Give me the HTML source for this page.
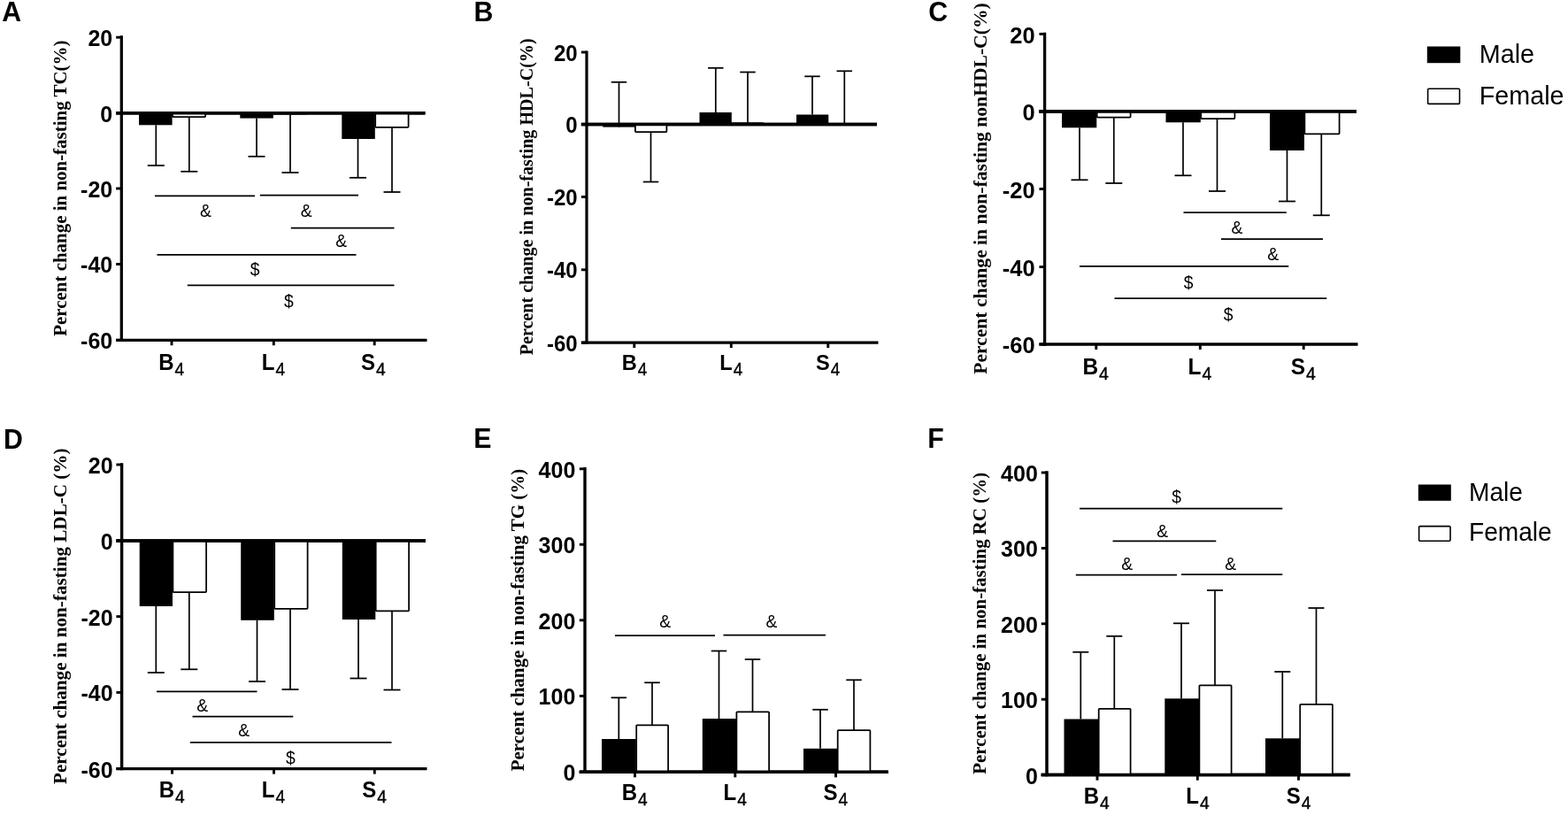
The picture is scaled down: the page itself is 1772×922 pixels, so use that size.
<!DOCTYPE html>
<html lang="en"><head><meta charset="utf-8"><title>Figure</title>
<style>html,body{margin:0;padding:0;background:#fff;}svg{display:block;}</style></head><body>
<svg width="1772" height="922" viewBox="0 0 1772 922">
<rect x="0" y="0" width="1772" height="922" fill="#fff"/>
<g>
<line x1="137.30" y1="40.35" x2="137.30" y2="385.95" stroke="#000" stroke-width="3.3" />
<line x1="131.15" y1="384.30" x2="482.50" y2="384.30" stroke="#000" stroke-width="3.3" />
<line x1="131.15" y1="127.70" x2="480.50" y2="127.70" stroke="#000" stroke-width="3.5999999999999996" />
<line x1="131.15" y1="42.20" x2="137.30" y2="42.20" stroke="#000" stroke-width="2.9" />
<text transform="translate(127.20,52.15) scale(1,1.04)" font-family='"Liberation Sans", Arial, sans-serif' font-size="25.0" font-weight="bold" text-anchor="end" >20</text>
<line x1="131.15" y1="127.70" x2="137.30" y2="127.70" stroke="#000" stroke-width="2.9" />
<text transform="translate(127.20,137.65) scale(1,1.04)" font-family='"Liberation Sans", Arial, sans-serif' font-size="25.0" font-weight="bold" text-anchor="end" >0</text>
<line x1="131.15" y1="213.00" x2="137.30" y2="213.00" stroke="#000" stroke-width="2.9" />
<text transform="translate(127.20,222.95) scale(1,1.04)" font-family='"Liberation Sans", Arial, sans-serif' font-size="25.0" font-weight="bold" text-anchor="end" >-20</text>
<line x1="131.15" y1="298.50" x2="137.30" y2="298.50" stroke="#000" stroke-width="2.9" />
<text transform="translate(127.20,308.45) scale(1,1.04)" font-family='"Liberation Sans", Arial, sans-serif' font-size="25.0" font-weight="bold" text-anchor="end" >-40</text>
<line x1="131.15" y1="384.30" x2="137.30" y2="384.30" stroke="#000" stroke-width="2.9" />
<text transform="translate(127.20,394.25) scale(1,1.04)" font-family='"Liberation Sans", Arial, sans-serif' font-size="25.0" font-weight="bold" text-anchor="end" >-60</text>
<line x1="194.00" y1="384.30" x2="194.00" y2="390.25" stroke="#000" stroke-width="2.9" />
<line x1="309.30" y1="384.30" x2="309.30" y2="390.25" stroke="#000" stroke-width="2.9" />
<line x1="423.20" y1="384.30" x2="423.20" y2="390.25" stroke="#000" stroke-width="2.9" />
<text transform="translate(179.30,418.00) scale(1,1.04)" font-family='"Liberation Sans", Arial, sans-serif' font-size="24.0" font-weight="bold">B<tspan font-weight="normal" font-size="19.2" dx="1" dy="5.8" stroke="#000" stroke-width="0.35">4</tspan></text>
<text transform="translate(295.80,418.00) scale(1,1.04)" font-family='"Liberation Sans", Arial, sans-serif' font-size="24.0" font-weight="bold">L<tspan font-weight="normal" font-size="19.2" dx="1" dy="5.8" stroke="#000" stroke-width="0.35">4</tspan></text>
<text transform="translate(408.00,418.00) scale(1,1.04)" font-family='"Liberation Sans", Arial, sans-serif' font-size="24.0" font-weight="bold">S<tspan font-weight="normal" font-size="19.2" dx="1" dy="5.8" stroke="#000" stroke-width="0.35">4</tspan></text>
<line x1="176.30" y1="141.30" x2="176.30" y2="187.00" stroke="#000" stroke-width="1.7" />
<line x1="166.80" y1="187.00" x2="185.80" y2="187.00" stroke="#000" stroke-width="1.75" />
<rect x="157.00" y="127.70" width="37.60" height="13.60" fill="#000"/>
<line x1="213.80" y1="132.50" x2="213.80" y2="193.80" stroke="#000" stroke-width="1.7" />
<line x1="204.30" y1="193.80" x2="223.30" y2="193.80" stroke="#000" stroke-width="1.75" />
<rect x="195.00" y="127.70" width="37.10" height="4.40" rx="0.8" fill="#fff" stroke="#000" stroke-width="1.75"/>
<line x1="290.00" y1="133.60" x2="290.00" y2="176.80" stroke="#000" stroke-width="1.7" />
<line x1="280.50" y1="176.80" x2="299.50" y2="176.80" stroke="#000" stroke-width="1.75" />
<rect x="271.30" y="127.70" width="37.50" height="5.90" fill="#000"/>
<line x1="328.00" y1="129.00" x2="328.00" y2="195.00" stroke="#000" stroke-width="1.7" />
<line x1="318.50" y1="195.00" x2="337.50" y2="195.00" stroke="#000" stroke-width="1.75" />
<rect x="309.20" y="127.70" width="37.90" height="0.90" rx="0.8" fill="#fff" stroke="#000" stroke-width="1.75"/>
<line x1="404.50" y1="157.00" x2="404.50" y2="200.80" stroke="#000" stroke-width="1.7" />
<line x1="395.00" y1="200.80" x2="414.00" y2="200.80" stroke="#000" stroke-width="1.75" />
<rect x="386.30" y="127.70" width="37.50" height="29.30" fill="#000"/>
<line x1="443.00" y1="144.30" x2="443.00" y2="217.00" stroke="#000" stroke-width="1.7" />
<line x1="433.50" y1="217.00" x2="452.50" y2="217.00" stroke="#000" stroke-width="1.75" />
<rect x="424.20" y="127.70" width="37.40" height="16.20" rx="0.8" fill="#fff" stroke="#000" stroke-width="1.75"/>
<line x1="131.15" y1="127.70" x2="480.50" y2="127.70" stroke="#000" stroke-width="3.5999999999999996" />
<line x1="175.00" y1="221.30" x2="288.00" y2="221.30" stroke="#000" stroke-width="1.75" />
<line x1="293.80" y1="220.70" x2="405.00" y2="220.70" stroke="#000" stroke-width="1.75" />
<line x1="328.80" y1="257.50" x2="445.50" y2="257.50" stroke="#000" stroke-width="1.75" />
<line x1="177.50" y1="287.80" x2="402.50" y2="287.80" stroke="#000" stroke-width="1.75" />
<line x1="211.80" y1="322.30" x2="445.50" y2="322.30" stroke="#000" stroke-width="1.75" />
<text transform="translate(232.50,244.90) scale(1,1.04)" font-family='"Liberation Sans", Arial, sans-serif' font-size="19.3" font-weight="normal" text-anchor="middle" >&amp;</text>
<text transform="translate(346.30,244.90) scale(1,1.04)" font-family='"Liberation Sans", Arial, sans-serif' font-size="19.3" font-weight="normal" text-anchor="middle" >&amp;</text>
<text transform="translate(385.80,279.40) scale(1,1.04)" font-family='"Liberation Sans", Arial, sans-serif' font-size="19.3" font-weight="normal" text-anchor="middle" >&amp;</text>
<text transform="translate(288.00,311.40) scale(1,1.04)" font-family='"Liberation Sans", Arial, sans-serif' font-size="19.3" font-weight="normal" text-anchor="middle" >$</text>
<text transform="translate(326.30,346.90) scale(1,1.04)" font-family='"Liberation Sans", Arial, sans-serif' font-size="19.3" font-weight="normal" text-anchor="middle" >$</text>
<text transform="translate(75.00,379.80) rotate(-90)" font-family='"Liberation Serif", "Times New Roman", serif' font-size="20.95" font-weight="bold">Percent change in non-fasting TC(%)</text>
<text transform="translate(2.30,24.40) scale(1,1.04)" font-family='"Liberation Sans", Arial, sans-serif' font-size="30.3" font-weight="bold" text-anchor="start" >A</text>
</g>
<g>
<line x1="663.00" y1="57.40" x2="663.00" y2="388.80" stroke="#000" stroke-width="3.2" />
<line x1="656.90" y1="387.20" x2="992.50" y2="387.20" stroke="#000" stroke-width="3.2" />
<line x1="656.90" y1="140.60" x2="991.00" y2="140.60" stroke="#000" stroke-width="3.5" />
<line x1="656.90" y1="59.00" x2="663.00" y2="59.00" stroke="#000" stroke-width="2.9" />
<text transform="translate(652.60,68.59) scale(1,1.04)" font-family='"Liberation Sans", Arial, sans-serif' font-size="24.0" font-weight="bold" text-anchor="end" >20</text>
<line x1="656.90" y1="140.60" x2="663.00" y2="140.60" stroke="#000" stroke-width="2.9" />
<text transform="translate(652.60,150.19) scale(1,1.04)" font-family='"Liberation Sans", Arial, sans-serif' font-size="24.0" font-weight="bold" text-anchor="end" >0</text>
<line x1="656.90" y1="222.40" x2="663.00" y2="222.40" stroke="#000" stroke-width="2.9" />
<text transform="translate(652.60,231.99) scale(1,1.04)" font-family='"Liberation Sans", Arial, sans-serif' font-size="24.0" font-weight="bold" text-anchor="end" >-20</text>
<line x1="656.90" y1="304.80" x2="663.00" y2="304.80" stroke="#000" stroke-width="2.9" />
<text transform="translate(652.60,314.39) scale(1,1.04)" font-family='"Liberation Sans", Arial, sans-serif' font-size="24.0" font-weight="bold" text-anchor="end" >-40</text>
<line x1="656.90" y1="387.20" x2="663.00" y2="387.20" stroke="#000" stroke-width="2.9" />
<text transform="translate(652.60,396.79) scale(1,1.04)" font-family='"Liberation Sans", Arial, sans-serif' font-size="24.0" font-weight="bold" text-anchor="end" >-60</text>
<line x1="716.80" y1="387.20" x2="716.80" y2="393.10" stroke="#000" stroke-width="2.9" />
<line x1="826.30" y1="387.20" x2="826.30" y2="393.10" stroke="#000" stroke-width="2.9" />
<line x1="935.80" y1="387.20" x2="935.80" y2="393.10" stroke="#000" stroke-width="2.9" />
<text transform="translate(702.80,418.10) scale(1,1.04)" font-family='"Liberation Sans", Arial, sans-serif' font-size="23.6" font-weight="bold">B<tspan font-weight="normal" font-size="18.9" dx="1" dy="5.8" stroke="#000" stroke-width="0.35">4</tspan></text>
<text transform="translate(813.30,418.10) scale(1,1.04)" font-family='"Liberation Sans", Arial, sans-serif' font-size="23.6" font-weight="bold">L<tspan font-weight="normal" font-size="18.9" dx="1" dy="5.8" stroke="#000" stroke-width="0.35">4</tspan></text>
<text transform="translate(922.00,418.10) scale(1,1.04)" font-family='"Liberation Sans", Arial, sans-serif' font-size="23.6" font-weight="bold">S<tspan font-weight="normal" font-size="18.9" dx="1" dy="5.8" stroke="#000" stroke-width="0.35">4</tspan></text>
<line x1="699.50" y1="143.60" x2="699.50" y2="92.80" stroke="#000" stroke-width="1.7" />
<line x1="690.75" y1="92.80" x2="708.25" y2="92.80" stroke="#000" stroke-width="1.75" />
<rect x="681.30" y="140.60" width="36.20" height="3.00" fill="#000"/>
<line x1="735.50" y1="149.50" x2="735.50" y2="205.50" stroke="#000" stroke-width="1.7" />
<line x1="726.75" y1="205.50" x2="744.25" y2="205.50" stroke="#000" stroke-width="1.75" />
<rect x="717.90" y="140.60" width="35.50" height="8.50" rx="0.8" fill="#fff" stroke="#000" stroke-width="1.75"/>
<line x1="808.80" y1="127.00" x2="808.80" y2="76.80" stroke="#000" stroke-width="1.7" />
<line x1="800.05" y1="76.80" x2="817.55" y2="76.80" stroke="#000" stroke-width="1.75" />
<rect x="790.50" y="127.00" width="36.30" height="13.60" fill="#000"/>
<line x1="845.00" y1="139.00" x2="845.00" y2="81.50" stroke="#000" stroke-width="1.7" />
<line x1="836.25" y1="81.50" x2="853.75" y2="81.50" stroke="#000" stroke-width="1.75" />
<rect x="827.20" y="139.00" width="35.40" height="1.20" rx="0.8" fill="#fff" stroke="#000" stroke-width="1.75"/>
<line x1="918.00" y1="129.50" x2="918.00" y2="86.30" stroke="#000" stroke-width="1.7" />
<line x1="909.25" y1="86.30" x2="926.75" y2="86.30" stroke="#000" stroke-width="1.75" />
<rect x="900.00" y="129.50" width="36.30" height="11.10" fill="#000"/>
<line x1="954.30" y1="139.80" x2="954.30" y2="80.30" stroke="#000" stroke-width="1.7" />
<line x1="945.55" y1="80.30" x2="963.05" y2="80.30" stroke="#000" stroke-width="1.75" />
<line x1="656.90" y1="140.60" x2="991.00" y2="140.60" stroke="#000" stroke-width="3.5" />
<text transform="translate(601.90,401.30) rotate(-90)" font-family='"Liberation Serif", "Times New Roman", serif' font-size="20.1" font-weight="bold">Percent change in non-fasting HDL-C(%)</text>
<text transform="translate(535.60,23.60) scale(1,1.04)" font-family='"Liberation Sans", Arial, sans-serif' font-size="30.3" font-weight="bold" text-anchor="start" >B</text>
</g>
<g>
<line x1="1180.60" y1="36.75" x2="1180.60" y2="390.65" stroke="#000" stroke-width="3.3" />
<line x1="1174.45" y1="389.00" x2="1534.50" y2="389.00" stroke="#000" stroke-width="3.3" />
<line x1="1174.45" y1="125.90" x2="1532.80" y2="125.90" stroke="#000" stroke-width="3.5999999999999996" />
<line x1="1174.45" y1="38.40" x2="1180.60" y2="38.40" stroke="#000" stroke-width="2.9" />
<text transform="translate(1169.60,48.53) scale(1,1.04)" font-family='"Liberation Sans", Arial, sans-serif' font-size="25.5" font-weight="bold" text-anchor="end" >20</text>
<line x1="1174.45" y1="125.90" x2="1180.60" y2="125.90" stroke="#000" stroke-width="2.9" />
<text transform="translate(1169.60,136.03) scale(1,1.04)" font-family='"Liberation Sans", Arial, sans-serif' font-size="25.5" font-weight="bold" text-anchor="end" >0</text>
<line x1="1174.45" y1="213.50" x2="1180.60" y2="213.50" stroke="#000" stroke-width="2.9" />
<text transform="translate(1169.60,223.63) scale(1,1.04)" font-family='"Liberation Sans", Arial, sans-serif' font-size="25.5" font-weight="bold" text-anchor="end" >-20</text>
<line x1="1174.45" y1="301.60" x2="1180.60" y2="301.60" stroke="#000" stroke-width="2.9" />
<text transform="translate(1169.60,311.73) scale(1,1.04)" font-family='"Liberation Sans", Arial, sans-serif' font-size="25.5" font-weight="bold" text-anchor="end" >-40</text>
<line x1="1174.45" y1="389.00" x2="1180.60" y2="389.00" stroke="#000" stroke-width="2.9" />
<text transform="translate(1169.60,399.13) scale(1,1.04)" font-family='"Liberation Sans", Arial, sans-serif' font-size="25.5" font-weight="bold" text-anchor="end" >-60</text>
<line x1="1238.80" y1="389.00" x2="1238.80" y2="394.95" stroke="#000" stroke-width="2.9" />
<line x1="1356.30" y1="389.00" x2="1356.30" y2="394.95" stroke="#000" stroke-width="2.9" />
<line x1="1473.20" y1="389.00" x2="1473.20" y2="394.95" stroke="#000" stroke-width="2.9" />
<text transform="translate(1223.40,422.50) scale(1,1.04)" font-family='"Liberation Sans", Arial, sans-serif' font-size="24.5" font-weight="bold">B<tspan font-weight="normal" font-size="19.6" dx="1" dy="5.8" stroke="#000" stroke-width="0.35">4</tspan></text>
<text transform="translate(1342.60,422.50) scale(1,1.04)" font-family='"Liberation Sans", Arial, sans-serif' font-size="24.5" font-weight="bold">L<tspan font-weight="normal" font-size="19.6" dx="1" dy="5.8" stroke="#000" stroke-width="0.35">4</tspan></text>
<text transform="translate(1458.70,422.50) scale(1,1.04)" font-family='"Liberation Sans", Arial, sans-serif' font-size="24.5" font-weight="bold">S<tspan font-weight="normal" font-size="19.6" dx="1" dy="5.8" stroke="#000" stroke-width="0.35">4</tspan></text>
<line x1="1220.00" y1="144.30" x2="1220.00" y2="203.30" stroke="#000" stroke-width="1.7" />
<line x1="1210.50" y1="203.30" x2="1229.50" y2="203.30" stroke="#000" stroke-width="1.75" />
<rect x="1200.00" y="125.90" width="39.30" height="18.40" fill="#000"/>
<line x1="1258.80" y1="133.00" x2="1258.80" y2="207.00" stroke="#000" stroke-width="1.7" />
<line x1="1249.30" y1="207.00" x2="1268.30" y2="207.00" stroke="#000" stroke-width="1.75" />
<rect x="1239.70" y="125.90" width="37.90" height="6.70" rx="0.8" fill="#fff" stroke="#000" stroke-width="1.75"/>
<line x1="1337.00" y1="138.30" x2="1337.00" y2="198.30" stroke="#000" stroke-width="1.7" />
<line x1="1327.50" y1="198.30" x2="1346.50" y2="198.30" stroke="#000" stroke-width="1.75" />
<rect x="1317.50" y="125.90" width="39.30" height="12.40" fill="#000"/>
<line x1="1375.50" y1="134.50" x2="1375.50" y2="216.00" stroke="#000" stroke-width="1.7" />
<line x1="1366.00" y1="216.00" x2="1385.00" y2="216.00" stroke="#000" stroke-width="1.75" />
<rect x="1357.20" y="125.90" width="38.20" height="8.20" rx="0.8" fill="#fff" stroke="#000" stroke-width="1.75"/>
<line x1="1454.50" y1="170.00" x2="1454.50" y2="227.50" stroke="#000" stroke-width="1.7" />
<line x1="1445.00" y1="227.50" x2="1464.00" y2="227.50" stroke="#000" stroke-width="1.75" />
<rect x="1435.00" y="125.90" width="39.00" height="44.10" fill="#000"/>
<line x1="1493.30" y1="151.80" x2="1493.30" y2="243.30" stroke="#000" stroke-width="1.7" />
<line x1="1483.80" y1="243.30" x2="1502.80" y2="243.30" stroke="#000" stroke-width="1.75" />
<rect x="1474.40" y="125.90" width="39.20" height="25.50" rx="0.8" fill="#fff" stroke="#000" stroke-width="1.75"/>
<line x1="1174.45" y1="125.90" x2="1532.80" y2="125.90" stroke="#000" stroke-width="3.5999999999999996" />
<line x1="1337.50" y1="240.00" x2="1453.80" y2="240.00" stroke="#000" stroke-width="1.75" />
<line x1="1380.00" y1="270.00" x2="1495.00" y2="270.00" stroke="#000" stroke-width="1.75" />
<line x1="1220.00" y1="300.80" x2="1456.30" y2="300.80" stroke="#000" stroke-width="1.75" />
<line x1="1259.50" y1="337.00" x2="1499.30" y2="337.00" stroke="#000" stroke-width="1.75" />
<text transform="translate(1398.00,264.40) scale(1,1.04)" font-family='"Liberation Sans", Arial, sans-serif' font-size="19.3" font-weight="normal" text-anchor="middle" >&amp;</text>
<text transform="translate(1438.80,293.90) scale(1,1.04)" font-family='"Liberation Sans", Arial, sans-serif' font-size="19.3" font-weight="normal" text-anchor="middle" >&amp;</text>
<text transform="translate(1343.00,325.70) scale(1,1.04)" font-family='"Liberation Sans", Arial, sans-serif' font-size="19.3" font-weight="normal" text-anchor="middle" >$</text>
<text transform="translate(1388.00,361.90) scale(1,1.04)" font-family='"Liberation Sans", Arial, sans-serif' font-size="19.3" font-weight="normal" text-anchor="middle" >$</text>
<text transform="translate(1114.50,422.80) rotate(-90)" font-family='"Liberation Serif", "Times New Roman", serif' font-size="21.6" font-weight="bold">Percent change in non-fasting nonHDL-C(%)</text>
<text transform="translate(1049.30,24.20) scale(1,1.04)" font-family='"Liberation Sans", Arial, sans-serif' font-size="30.3" font-weight="bold" text-anchor="start" >C</text>
</g>
<g>
<line x1="137.60" y1="523.30" x2="137.60" y2="870.30" stroke="#000" stroke-width="3.4" />
<line x1="131.40" y1="868.60" x2="482.50" y2="868.60" stroke="#000" stroke-width="3.4" />
<line x1="131.40" y1="611.00" x2="481.00" y2="611.00" stroke="#000" stroke-width="3.6999999999999997" />
<line x1="131.40" y1="525.00" x2="137.60" y2="525.00" stroke="#000" stroke-width="2.9" />
<text transform="translate(127.60,534.95) scale(1,1.04)" font-family='"Liberation Sans", Arial, sans-serif' font-size="25.0" font-weight="bold" text-anchor="end" >20</text>
<line x1="131.40" y1="611.00" x2="137.60" y2="611.00" stroke="#000" stroke-width="2.9" />
<text transform="translate(127.60,620.95) scale(1,1.04)" font-family='"Liberation Sans", Arial, sans-serif' font-size="25.0" font-weight="bold" text-anchor="end" >0</text>
<line x1="131.40" y1="696.60" x2="137.60" y2="696.60" stroke="#000" stroke-width="2.9" />
<text transform="translate(127.60,706.55) scale(1,1.04)" font-family='"Liberation Sans", Arial, sans-serif' font-size="25.0" font-weight="bold" text-anchor="end" >-20</text>
<line x1="131.40" y1="782.40" x2="137.60" y2="782.40" stroke="#000" stroke-width="2.9" />
<text transform="translate(127.60,792.35) scale(1,1.04)" font-family='"Liberation Sans", Arial, sans-serif' font-size="25.0" font-weight="bold" text-anchor="end" >-40</text>
<line x1="131.40" y1="868.60" x2="137.60" y2="868.60" stroke="#000" stroke-width="2.9" />
<text transform="translate(127.60,878.55) scale(1,1.04)" font-family='"Liberation Sans", Arial, sans-serif' font-size="25.0" font-weight="bold" text-anchor="end" >-60</text>
<line x1="194.50" y1="868.60" x2="194.50" y2="874.60" stroke="#000" stroke-width="2.9" />
<line x1="309.50" y1="868.60" x2="309.50" y2="874.60" stroke="#000" stroke-width="2.9" />
<line x1="423.30" y1="868.60" x2="423.30" y2="874.60" stroke="#000" stroke-width="2.9" />
<text transform="translate(179.80,900.80) scale(1,1.04)" font-family='"Liberation Sans", Arial, sans-serif' font-size="24.0" font-weight="bold">B<tspan font-weight="normal" font-size="19.2" dx="1" dy="5.8" stroke="#000" stroke-width="0.35">4</tspan></text>
<text transform="translate(295.80,900.80) scale(1,1.04)" font-family='"Liberation Sans", Arial, sans-serif' font-size="24.0" font-weight="bold">L<tspan font-weight="normal" font-size="19.2" dx="1" dy="5.8" stroke="#000" stroke-width="0.35">4</tspan></text>
<text transform="translate(409.30,900.80) scale(1,1.04)" font-family='"Liberation Sans", Arial, sans-serif' font-size="24.0" font-weight="bold">S<tspan font-weight="normal" font-size="19.2" dx="1" dy="5.8" stroke="#000" stroke-width="0.35">4</tspan></text>
<line x1="176.30" y1="685.00" x2="176.30" y2="760.00" stroke="#000" stroke-width="1.7" />
<line x1="166.80" y1="760.00" x2="185.80" y2="760.00" stroke="#000" stroke-width="1.75" />
<rect x="157.70" y="611.00" width="37.30" height="74.00" fill="#000"/>
<line x1="213.80" y1="669.50" x2="213.80" y2="756.30" stroke="#000" stroke-width="1.7" />
<line x1="204.30" y1="756.30" x2="223.30" y2="756.30" stroke="#000" stroke-width="1.75" />
<rect x="195.40" y="611.00" width="37.70" height="58.10" rx="0.8" fill="#fff" stroke="#000" stroke-width="1.75"/>
<line x1="290.50" y1="700.80" x2="290.50" y2="770.00" stroke="#000" stroke-width="1.7" />
<line x1="281.00" y1="770.00" x2="300.00" y2="770.00" stroke="#000" stroke-width="1.75" />
<rect x="272.20" y="611.00" width="37.60" height="89.80" fill="#000"/>
<line x1="328.00" y1="688.20" x2="328.00" y2="779.00" stroke="#000" stroke-width="1.7" />
<line x1="318.50" y1="779.00" x2="337.50" y2="779.00" stroke="#000" stroke-width="1.75" />
<rect x="310.20" y="611.00" width="37.40" height="76.80" rx="0.8" fill="#fff" stroke="#000" stroke-width="1.75"/>
<line x1="405.00" y1="700.00" x2="405.00" y2="766.50" stroke="#000" stroke-width="1.7" />
<line x1="395.50" y1="766.50" x2="414.50" y2="766.50" stroke="#000" stroke-width="1.75" />
<rect x="386.80" y="611.00" width="37.50" height="89.00" fill="#000"/>
<line x1="443.00" y1="690.70" x2="443.00" y2="779.50" stroke="#000" stroke-width="1.7" />
<line x1="433.50" y1="779.50" x2="452.50" y2="779.50" stroke="#000" stroke-width="1.75" />
<rect x="424.70" y="611.00" width="37.40" height="79.30" rx="0.8" fill="#fff" stroke="#000" stroke-width="1.75"/>
<line x1="131.40" y1="611.00" x2="481.00" y2="611.00" stroke="#000" stroke-width="3.6999999999999997" />
<line x1="177.00" y1="781.30" x2="290.50" y2="781.30" stroke="#000" stroke-width="1.75" />
<line x1="217.50" y1="809.50" x2="331.30" y2="809.50" stroke="#000" stroke-width="1.75" />
<line x1="215.00" y1="838.80" x2="442.50" y2="838.80" stroke="#000" stroke-width="1.75" />
<text transform="translate(228.80,803.90) scale(1,1.04)" font-family='"Liberation Sans", Arial, sans-serif' font-size="19.3" font-weight="normal" text-anchor="middle" >&amp;</text>
<text transform="translate(275.80,831.90) scale(1,1.04)" font-family='"Liberation Sans", Arial, sans-serif' font-size="19.3" font-weight="normal" text-anchor="middle" >&amp;</text>
<text transform="translate(328.30,862.70) scale(1,1.04)" font-family='"Liberation Sans", Arial, sans-serif' font-size="19.3" font-weight="normal" text-anchor="middle" >$</text>
<text transform="translate(74.75,886.00) rotate(-90)" font-family='"Liberation Serif", "Times New Roman", serif' font-size="21.15" font-weight="bold">Percent change in non-fasting LDL-C (%)</text>
<text transform="translate(4.00,507.00) scale(1,1.04)" font-family='"Liberation Sans", Arial, sans-serif' font-size="30.3" font-weight="bold" text-anchor="start" >D</text>
</g>
<g>
<line x1="661.00" y1="528.10" x2="661.00" y2="874.00" stroke="#000" stroke-width="3.4" />
<line x1="654.80" y1="872.30" x2="1003.80" y2="872.30" stroke="#000" stroke-width="3.4" />
<line x1="654.80" y1="529.80" x2="661.00" y2="529.80" stroke="#000" stroke-width="2.9" />
<text transform="translate(650.30,539.75) scale(1,1.04)" font-family='"Liberation Sans", Arial, sans-serif' font-size="25.0" font-weight="bold" text-anchor="end" >400</text>
<line x1="654.80" y1="615.20" x2="661.00" y2="615.20" stroke="#000" stroke-width="2.9" />
<text transform="translate(650.30,625.15) scale(1,1.04)" font-family='"Liberation Sans", Arial, sans-serif' font-size="25.0" font-weight="bold" text-anchor="end" >300</text>
<line x1="654.80" y1="700.80" x2="661.00" y2="700.80" stroke="#000" stroke-width="2.9" />
<text transform="translate(650.30,710.75) scale(1,1.04)" font-family='"Liberation Sans", Arial, sans-serif' font-size="25.0" font-weight="bold" text-anchor="end" >200</text>
<line x1="654.80" y1="786.40" x2="661.00" y2="786.40" stroke="#000" stroke-width="2.9" />
<text transform="translate(650.30,796.35) scale(1,1.04)" font-family='"Liberation Sans", Arial, sans-serif' font-size="25.0" font-weight="bold" text-anchor="end" >100</text>
<line x1="654.80" y1="872.30" x2="661.00" y2="872.30" stroke="#000" stroke-width="2.9" />
<text transform="translate(650.30,882.25) scale(1,1.04)" font-family='"Liberation Sans", Arial, sans-serif' font-size="25.0" font-weight="bold" text-anchor="end" >0</text>
<line x1="717.50" y1="872.30" x2="717.50" y2="878.30" stroke="#000" stroke-width="2.9" />
<line x1="830.80" y1="872.30" x2="830.80" y2="878.30" stroke="#000" stroke-width="2.9" />
<line x1="944.50" y1="872.30" x2="944.50" y2="878.30" stroke="#000" stroke-width="2.9" />
<text transform="translate(702.80,904.30) scale(1,1.04)" font-family='"Liberation Sans", Arial, sans-serif' font-size="24.0" font-weight="bold">B<tspan font-weight="normal" font-size="19.2" dx="1" dy="5.8" stroke="#000" stroke-width="0.35">4</tspan></text>
<text transform="translate(817.50,904.30) scale(1,1.04)" font-family='"Liberation Sans", Arial, sans-serif' font-size="24.0" font-weight="bold">L<tspan font-weight="normal" font-size="19.2" dx="1" dy="5.8" stroke="#000" stroke-width="0.35">4</tspan></text>
<text transform="translate(930.50,904.30) scale(1,1.04)" font-family='"Liberation Sans", Arial, sans-serif' font-size="24.0" font-weight="bold">S<tspan font-weight="normal" font-size="19.2" dx="1" dy="5.8" stroke="#000" stroke-width="0.35">4</tspan></text>
<line x1="699.30" y1="835.00" x2="699.30" y2="788.30" stroke="#000" stroke-width="1.7" />
<line x1="690.55" y1="788.30" x2="708.05" y2="788.30" stroke="#000" stroke-width="1.75" />
<rect x="680.00" y="835.00" width="38.80" height="37.30" fill="#000"/>
<line x1="737.00" y1="819.30" x2="737.00" y2="771.30" stroke="#000" stroke-width="1.7" />
<line x1="728.25" y1="771.30" x2="745.75" y2="771.30" stroke="#000" stroke-width="1.75" />
<rect x="719.20" y="819.30" width="35.90" height="52.60" rx="0.8" fill="#fff" stroke="#000" stroke-width="1.75"/>
<line x1="812.50" y1="812.00" x2="812.50" y2="735.50" stroke="#000" stroke-width="1.7" />
<line x1="803.75" y1="735.50" x2="821.25" y2="735.50" stroke="#000" stroke-width="1.75" />
<rect x="793.80" y="812.00" width="38.20" height="60.30" fill="#000"/>
<line x1="850.50" y1="804.30" x2="850.50" y2="745.00" stroke="#000" stroke-width="1.7" />
<line x1="841.75" y1="745.00" x2="859.25" y2="745.00" stroke="#000" stroke-width="1.75" />
<rect x="832.40" y="804.30" width="36.70" height="67.60" rx="0.8" fill="#fff" stroke="#000" stroke-width="1.75"/>
<line x1="927.00" y1="845.80" x2="927.00" y2="801.80" stroke="#000" stroke-width="1.7" />
<line x1="918.25" y1="801.80" x2="935.75" y2="801.80" stroke="#000" stroke-width="1.75" />
<rect x="908.00" y="845.80" width="38.30" height="26.50" fill="#000"/>
<line x1="965.00" y1="825.00" x2="965.00" y2="768.30" stroke="#000" stroke-width="1.7" />
<line x1="956.25" y1="768.30" x2="973.75" y2="768.30" stroke="#000" stroke-width="1.75" />
<rect x="946.70" y="825.00" width="36.70" height="46.90" rx="0.8" fill="#fff" stroke="#000" stroke-width="1.75"/>
<line x1="654.80" y1="872.30" x2="1003.80" y2="872.30" stroke="#000" stroke-width="3.4" />
<line x1="695.00" y1="718.00" x2="808.00" y2="718.00" stroke="#000" stroke-width="1.75" />
<line x1="817.50" y1="717.50" x2="933.00" y2="717.50" stroke="#000" stroke-width="1.75" />
<text transform="translate(751.80,708.90) scale(1,1.04)" font-family='"Liberation Sans", Arial, sans-serif' font-size="19.3" font-weight="normal" text-anchor="middle" >&amp;</text>
<text transform="translate(872.00,708.90) scale(1,1.04)" font-family='"Liberation Sans", Arial, sans-serif' font-size="19.3" font-weight="normal" text-anchor="middle" >&amp;</text>
<text transform="translate(591.75,871.30) rotate(-90)" font-family='"Liberation Serif", "Times New Roman", serif' font-size="21.0" font-weight="bold">Percent change in non-fasting TG (%)</text>
<text transform="translate(535.30,506.30) scale(1,1.04)" font-family='"Liberation Sans", Arial, sans-serif' font-size="30.3" font-weight="bold" text-anchor="start" >E</text>
</g>
<g>
<line x1="1183.00" y1="532.25" x2="1183.00" y2="877.35" stroke="#000" stroke-width="3.5" />
<line x1="1176.75" y1="875.60" x2="1525.80" y2="875.60" stroke="#000" stroke-width="3.5" />
<line x1="1176.75" y1="534.00" x2="1183.00" y2="534.00" stroke="#000" stroke-width="2.9" />
<text transform="translate(1172.80,543.95) scale(1,1.04)" font-family='"Liberation Sans", Arial, sans-serif' font-size="25.0" font-weight="bold" text-anchor="end" >400</text>
<line x1="1176.75" y1="619.40" x2="1183.00" y2="619.40" stroke="#000" stroke-width="2.9" />
<text transform="translate(1172.80,629.35) scale(1,1.04)" font-family='"Liberation Sans", Arial, sans-serif' font-size="25.0" font-weight="bold" text-anchor="end" >300</text>
<line x1="1176.75" y1="704.80" x2="1183.00" y2="704.80" stroke="#000" stroke-width="2.9" />
<text transform="translate(1172.80,714.75) scale(1,1.04)" font-family='"Liberation Sans", Arial, sans-serif' font-size="25.0" font-weight="bold" text-anchor="end" >200</text>
<line x1="1176.75" y1="790.20" x2="1183.00" y2="790.20" stroke="#000" stroke-width="2.9" />
<text transform="translate(1172.80,800.15) scale(1,1.04)" font-family='"Liberation Sans", Arial, sans-serif' font-size="25.0" font-weight="bold" text-anchor="end" >100</text>
<line x1="1176.75" y1="875.60" x2="1183.00" y2="875.60" stroke="#000" stroke-width="2.9" />
<text transform="translate(1172.80,885.55) scale(1,1.04)" font-family='"Liberation Sans", Arial, sans-serif' font-size="25.0" font-weight="bold" text-anchor="end" >0</text>
<line x1="1240.00" y1="875.60" x2="1240.00" y2="881.65" stroke="#000" stroke-width="2.9" />
<line x1="1353.30" y1="875.60" x2="1353.30" y2="881.65" stroke="#000" stroke-width="2.9" />
<line x1="1467.50" y1="875.60" x2="1467.50" y2="881.65" stroke="#000" stroke-width="2.9" />
<text transform="translate(1224.80,907.50) scale(1,1.04)" font-family='"Liberation Sans", Arial, sans-serif' font-size="24.0" font-weight="bold">B<tspan font-weight="normal" font-size="19.2" dx="1" dy="5.8" stroke="#000" stroke-width="0.35">4</tspan></text>
<text transform="translate(1340.30,907.50) scale(1,1.04)" font-family='"Liberation Sans", Arial, sans-serif' font-size="24.0" font-weight="bold">L<tspan font-weight="normal" font-size="19.2" dx="1" dy="5.8" stroke="#000" stroke-width="0.35">4</tspan></text>
<text transform="translate(1453.70,907.50) scale(1,1.04)" font-family='"Liberation Sans", Arial, sans-serif' font-size="24.0" font-weight="bold">S<tspan font-weight="normal" font-size="19.2" dx="1" dy="5.8" stroke="#000" stroke-width="0.35">4</tspan></text>
<line x1="1221.30" y1="812.50" x2="1221.30" y2="736.80" stroke="#000" stroke-width="1.7" />
<line x1="1212.30" y1="736.80" x2="1230.30" y2="736.80" stroke="#000" stroke-width="1.75" />
<rect x="1202.50" y="812.50" width="38.80" height="63.10" fill="#000"/>
<line x1="1259.30" y1="800.80" x2="1259.30" y2="718.80" stroke="#000" stroke-width="1.7" />
<line x1="1250.30" y1="718.80" x2="1268.30" y2="718.80" stroke="#000" stroke-width="1.75" />
<rect x="1241.70" y="800.80" width="35.90" height="74.40" rx="0.8" fill="#fff" stroke="#000" stroke-width="1.75"/>
<line x1="1335.00" y1="789.30" x2="1335.00" y2="704.30" stroke="#000" stroke-width="1.7" />
<line x1="1326.00" y1="704.30" x2="1344.00" y2="704.30" stroke="#000" stroke-width="1.75" />
<rect x="1316.30" y="789.30" width="38.70" height="86.30" fill="#000"/>
<line x1="1373.00" y1="774.30" x2="1373.00" y2="667.00" stroke="#000" stroke-width="1.7" />
<line x1="1364.00" y1="667.00" x2="1382.00" y2="667.00" stroke="#000" stroke-width="1.75" />
<rect x="1355.40" y="774.30" width="36.20" height="100.90" rx="0.8" fill="#fff" stroke="#000" stroke-width="1.75"/>
<line x1="1449.30" y1="834.30" x2="1449.30" y2="759.00" stroke="#000" stroke-width="1.7" />
<line x1="1440.30" y1="759.00" x2="1458.30" y2="759.00" stroke="#000" stroke-width="1.75" />
<rect x="1430.00" y="834.30" width="38.80" height="41.30" fill="#000"/>
<line x1="1487.50" y1="795.80" x2="1487.50" y2="687.00" stroke="#000" stroke-width="1.7" />
<line x1="1478.50" y1="687.00" x2="1496.50" y2="687.00" stroke="#000" stroke-width="1.75" />
<rect x="1469.20" y="795.80" width="36.70" height="79.40" rx="0.8" fill="#fff" stroke="#000" stroke-width="1.75"/>
<line x1="1176.75" y1="875.60" x2="1525.80" y2="875.60" stroke="#000" stroke-width="3.5" />
<line x1="1220.00" y1="574.50" x2="1449.30" y2="574.50" stroke="#000" stroke-width="1.75" />
<line x1="1257.50" y1="611.30" x2="1374.30" y2="611.30" stroke="#000" stroke-width="1.75" />
<line x1="1215.80" y1="649.50" x2="1330.00" y2="649.50" stroke="#000" stroke-width="1.75" />
<line x1="1335.00" y1="649.00" x2="1449.30" y2="649.00" stroke="#000" stroke-width="1.75" />
<text transform="translate(1329.50,568.20) scale(1,1.04)" font-family='"Liberation Sans", Arial, sans-serif' font-size="19.3" font-weight="normal" text-anchor="middle" >$</text>
<text transform="translate(1313.80,606.90) scale(1,1.04)" font-family='"Liberation Sans", Arial, sans-serif' font-size="19.3" font-weight="normal" text-anchor="middle" >&amp;</text>
<text transform="translate(1273.80,643.90) scale(1,1.04)" font-family='"Liberation Sans", Arial, sans-serif' font-size="19.3" font-weight="normal" text-anchor="middle" >&amp;</text>
<text transform="translate(1390.80,643.90) scale(1,1.04)" font-family='"Liberation Sans", Arial, sans-serif' font-size="19.3" font-weight="normal" text-anchor="middle" >&amp;</text>
<text transform="translate(1113.60,874.80) rotate(-90)" font-family='"Liberation Serif", "Times New Roman", serif' font-size="20.95" font-weight="bold">Percent change in non-fasting RC (%)</text>
<text transform="translate(1048.30,506.30) scale(1,1.04)" font-family='"Liberation Sans", Arial, sans-serif' font-size="30.3" font-weight="bold" text-anchor="start" >F</text>
</g>
<rect x="1612.8" y="52.5" width="37.5" height="18.7" fill="#000"/>
<rect x="1613.6" y="100.3" width="35.9" height="17.099999999999998" rx="1.2" fill="#fff" stroke="#000" stroke-width="1.6"/>
<text transform="translate(1671.80,70.80) scale(1,1.04)" font-family='"Liberation Sans", Arial, sans-serif' font-size="28.7" font-weight="normal" text-anchor="start" >Male</text>
<text transform="translate(1671.80,117.60) scale(1,1.04)" font-family='"Liberation Sans", Arial, sans-serif' font-size="28.7" font-weight="normal" text-anchor="start" >Female</text>
<rect x="1602.8" y="547.5" width="37.0" height="18.3" fill="#000"/>
<rect x="1603.6" y="594.5999999999999" width="35.4" height="16.7" rx="1.2" fill="#fff" stroke="#000" stroke-width="1.6"/>
<text transform="translate(1660.00,565.50) scale(1,1.04)" font-family='"Liberation Sans", Arial, sans-serif' font-size="28.1" font-weight="normal" text-anchor="start" >Male</text>
<text transform="translate(1660.00,611.30) scale(1,1.04)" font-family='"Liberation Sans", Arial, sans-serif' font-size="28.1" font-weight="normal" text-anchor="start" >Female</text>
</svg></body></html>
